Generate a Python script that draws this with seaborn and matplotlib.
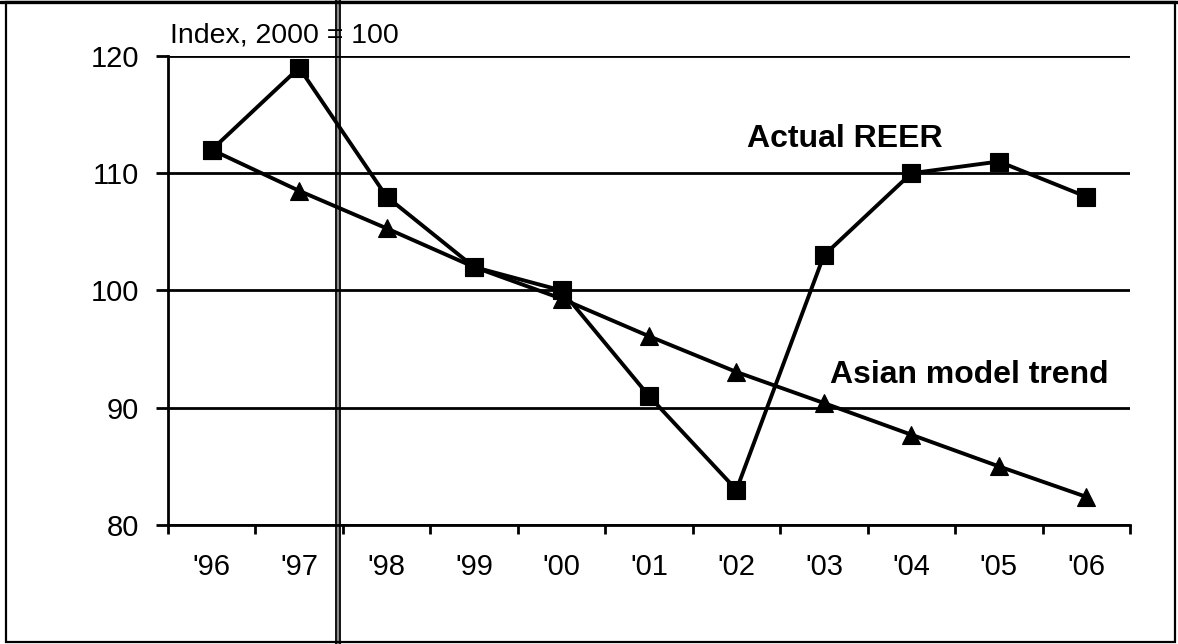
import matplotlib
matplotlib.use("Agg")
import matplotlib.pyplot as plt
import seaborn as sns
import pandas as pd
import numpy as np
from matplotlib.lines import Line2D
from matplotlib.patches import Rectangle

# ---- data ----
years = ["'96", "'97", "'98", "'99", "'00", "'01", "'02", "'03", "'04", "'05", "'06"]
actual_reer = [112, 119, 108, 102, 100, 91, 83, 103, 110, 111, 108]
asian_trend = [112, 108.5, 105.3, 102, 99.3, 96.1, 93.05, 90.4, 87.7, 85.0, 82.4]
y_ticks = [80, 90, 100, 110, 120]
index_label = "Index, 2000 = 100"
series_labels = ["Actual REER", "Asian model trend"]

sns.set_theme(style="white")
plt.rcParams['font.family'] = ['Liberation Sans', 'DejaVu Sans']

W, H = 1178, 644
fig = plt.figure(figsize=(W / 100, H / 100), dpi=100)
fig.patch.set_facecolor("white")

def fx(px):
    return px / W

def fy(py):
    return 1 - py / H

# scanner fold line (double vertical line)
fig.add_artist(Rectangle((fx(335), 0), fx(6), 1, transform=fig.transFigure,
                         facecolor="#8a8a8a", edgecolor="none", zorder=0))
for xx in (335.8, 340.2):
    fig.add_artist(Line2D([fx(xx)] * 2, [0, 1], transform=fig.transFigure,
                          color="black", lw=1.2, zorder=0.5))

ax = fig.add_axes([fx(168), fy(525), fx(1130 - 168), (525 - 56) / H])
ax.patch.set_alpha(0)

pos = np.arange(len(years))
df = pd.DataFrame({"pos": pos, "actual": actual_reer, "trend": asian_trend})

sns.lineplot(data=df, x="pos", y="trend", ax=ax, color="black", lw=2.8,
             marker="^", markersize=13.5, markeredgewidth=0.8,
             markeredgecolor="black", markerfacecolor="black", zorder=3)
sns.lineplot(data=df, x="pos", y="actual", ax=ax, color="black", lw=2.8,
             marker="s", markersize=12.3, markeredgewidth=0.8,
             markeredgecolor="black", markerfacecolor="black", zorder=4)

ax.set_xlim(-0.5, len(years) - 0.5)
ax.set_ylim(80, 120)
ax.set_xlabel("")
ax.set_ylabel("")

ax.set_yticks(y_ticks)
ax.set_yticklabels([str(v) for v in y_ticks])
ax.yaxis.grid(True, color="black", lw=2.0)
ax.xaxis.grid(False)
ax.set_axisbelow(True)

ax.set_xticks(np.arange(-0.5, len(years), 1.0))
ax.set_xticklabels([])
ax.set_xticks(pos, minor=True)
ax.set_xticklabels(years, minor=True)

ax.tick_params(axis="y", which="major", direction="out", length=9, width=2.0,
               color="black", pad=12, labelsize=21, labelcolor="black", left=True)
ax.tick_params(axis="x", which="major", direction="out", length=6.5, width=2.0,
               color="black", bottom=True)
ax.tick_params(axis="x", which="minor", length=0, pad=20, labelsize=21,
               labelcolor="black", bottom=True)

for side in ("top", "right"):
    ax.spines[side].set_visible(False)
for side in ("left", "bottom"):
    ax.spines[side].set_color("black")
    ax.spines[side].set_linewidth(2.0)

# texts
fig.text(fx(170), fy(42), index_label, ha="left", va="baseline",
         fontsize=20.5, color="black", zorder=5)
fig.text(fx(747), fy(147), series_labels[0], ha="left", va="baseline",
         fontsize=23, fontweight="bold", color="black")
fig.text(fx(830), fy(383), series_labels[1], ha="left", va="baseline",
         fontsize=23, fontweight="bold", color="black")

# outer frame
fig.add_artist(Rectangle((fx(6), fy(642)), fx(1175 - 6), (642 - 2) / H,
                         transform=fig.transFigure, fill=False,
                         edgecolor="black", lw=1.6, zorder=6))
fig.add_artist(Line2D([0, 1], [fy(1.5), fy(1.5)], transform=fig.transFigure,
                      color="black", lw=2.4, zorder=6))

fig.savefig("out.png", dpi=100, facecolor="white")
